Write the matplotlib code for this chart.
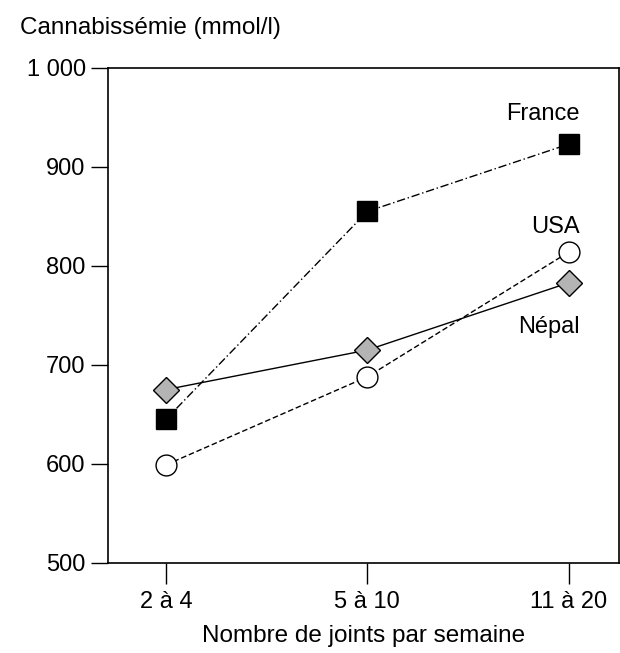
import matplotlib.pyplot as plt

plt.rcParams['font.family'] = ['Liberation Sans', 'DejaVu Sans']

categories = ["2 à 4", "5 à 10", "11 à 20"]
france = [645, 855, 923]
usa = [599, 688, 814]
nepal = [675, 715, 783]
yticks = [500, 600, 700, 800, 900, 1000]
ytick_labels = ["500", "600", "700", "800", "900", "1 000"]

x = list(range(len(categories)))

fig = plt.figure(figsize=(6.2, 6.53), dpi=100)
ax = fig.add_axes([0.174, 0.138, 0.824, 0.758])

ax.plot(x, nepal, color='black', lw=1, ls='-', marker='D', markersize=13,
        markerfacecolor='#b4b4b4', markeredgecolor='black', markeredgewidth=1, zorder=3)
ax.plot(x, usa, color='black', lw=1, ls=(0, (4, 2)), marker='o', markersize=15,
        markerfacecolor='white', markeredgecolor='black', markeredgewidth=1, zorder=3)
ax.plot(x, france, color='black', lw=1, ls=(0, (6, 2, 1, 2)), marker='s', markersize=15,
        markerfacecolor='black', markeredgecolor='black', zorder=3)

# series labels next to the last points
ax.text(2.055, 953, "France", ha='right', va='center', fontsize=17)
ax.text(2.055, 839, "USA", ha='right', va='center', fontsize=17)
ax.text(2.055, 738, "Népal", ha='right', va='center', fontsize=17)

ax.set_xlim(-0.288, 2.248)
ax.set_ylim(500, 1000)
ax.set_xticks(x)
ax.set_xticklabels(categories, fontsize=17)
ax.set_yticks(yticks)
ax.set_yticklabels(ytick_labels, fontsize=17)
ax.tick_params(axis='y', direction='out', length=12, width=1, pad=4)
ax.tick_params(axis='x', direction='out', length=15, width=1, pad=5)
for s in ax.spines.values():
    s.set_linewidth(1.2)

ax.set_xlabel("Nombre de joints par semaine", fontsize=17.5, labelpad=9)
fig.text(20 / 620, 1 - 28 / 653, "Cannabissémie (mmol/l)", ha='left', va='center', fontsize=17.5)

plt.savefig("out.png", dpi=100)
